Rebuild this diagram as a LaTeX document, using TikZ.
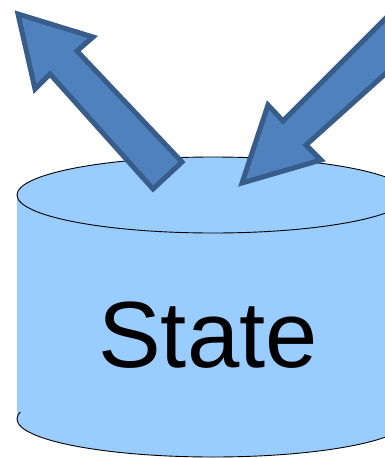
\documentclass[tikz,border=0pt]{standalone}
\usepackage{fontspec}
\setmainfont{Liberation Sans}
\usetikzlibrary{positioning}
\definecolor{storefill}{HTML}{99CCFF}
\definecolor{arrowfill}{HTML}{4F81BD}
\definecolor{arrowline}{HTML}{385D8A}

\begin{document}
\begin{tikzpicture}[
    x=1pt, y=-1pt,
    store/.style={fill=storefill},
    rim/.style={draw=black, line width=0.9pt},
    bigarrow/.style={fill=arrowfill, draw=arrowline, line width=5pt, line join=miter},
    statetext/.style={font=\fontsize{94}{100}\selectfont, inner sep=0pt}
  ]
    \useasboundingbox (0,0) rectangle (385,458);
    \clip (0,0) rectangle (385,458);
    % cylinder body
    \fill[store] (17,195) rectangle (409,419);
    \fill[store] (213,419) ellipse[x radius=196, y radius=38];
    \begin{scope}
      \clip (0,412) rectangle (385,458);
      \draw[rim] (213,419) ellipse[x radius=196, y radius=38];
    \end{scope}
    % top of the cylinder
    \draw[rim, store] (213,195) ellipse[x radius=196, y radius=38];
    \node[statetext] (state) at (208,335) {State};
    % outgoing arrow
    \draw[bigarrow] (18,14) -- (93,37) -- (77,51) -- (182,162) -- (153,189)
      -- (50,74) -- (35,89) -- cycle;
    % incoming arrow
    \draw[bigarrow] (242,183) -- (268,105) -- (283,121) -- (430,-26) -- (462,5)
      -- (306,145) -- (321,160) -- cycle;
\end{tikzpicture}
\end{document}
